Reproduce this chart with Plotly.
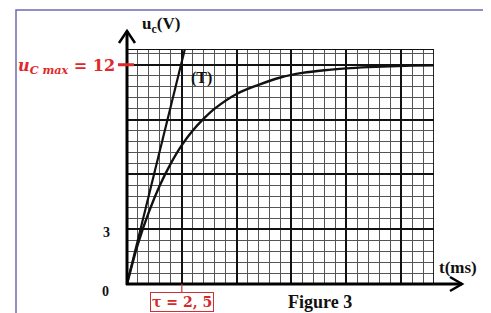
import plotly.graph_objects as go

# ---- data ----
t_curve = [0, 0.5, 1, 1.5, 2, 2.5, 3, 3.5, 4, 5, 6, 7, 8, 9, 10, 11, 12, 13, 14]
u_curve = [0, 2.2, 3.95, 5.4, 6.6, 7.6, 8.4, 9.05, 9.6, 10.4, 10.9, 11.3, 11.55, 11.7, 11.8, 11.87, 11.92, 11.95, 11.97]
t_tangent = [0, 2.64]
u_tangent = [0, 12.86]
u_max = 12
tau = 2.5
y_tick_labels = ["0", "3"]

# ---- layout geometry (page pixels; the page body adds an 8px offset) ----
OFF = 8
W, H = 491 - OFF, 313 - OFF
PL, PR, PT, PB = 127, 434, 49, 284          # plot area in page pixels
L, T = PL - OFF, PT - OFF
R, B = W - (PR - OFF), H - (PB - OFF)
PW, PH = PR - PL, PB - PT


def px(x):
    return (x - PL) / PW


def py(y):
    return (PB - y) / PH


fig = go.Figure()
fig.add_trace(go.Scatter(x=t_curve, y=u_curve, mode="lines", line=dict(color="#111", width=2.4, shape="spline"),
                         hoverinfo="skip", showlegend=False))
fig.add_trace(go.Scatter(x=t_tangent, y=u_tangent, mode="lines", line=dict(color="#111", width=2.2),
                         hoverinfo="skip", showlegend=False))

serif = "Liberation Serif"
shapes = []
# outer frame
shapes.append(dict(type="rect", xref="paper", yref="paper", x0=px(16), x1=px(484), y0=py(330), y1=py(10),
                   line=dict(color="#6b6bb0", width=1.5), layer="below"))
# grid border
shapes.append(dict(type="rect", xref="x", yref="y", x0=0, x1=14, y0=0, y1=12.86,
                   line=dict(color="#111", width=1.8)))
# y axis with arrow
shapes.append(dict(type="line", xref="paper", yref="paper", x0=px(127), x1=px(127), y0=py(285), y1=py(31),
                   line=dict(color="#000", width=3)))
shapes.append(dict(type="path", xref="paper", yref="paper",
                   path=f"M {px(119)} {py(43)} L {px(127)} {py(31)} L {px(135)} {py(43)}",
                   line=dict(color="#000", width=2.5)))
# x axis with arrow
shapes.append(dict(type="line", xref="paper", yref="paper", x0=px(126), x1=px(462), y0=py(284), y1=py(284),
                   line=dict(color="#000", width=3)))
shapes.append(dict(type="path", xref="paper", yref="paper",
                   path=f"M {px(450)} {py(277)} L {px(462)} {py(284)} L {px(450)} {py(291)}",
                   line=dict(color="#000", width=2.5)))
# red markers
shapes.append(dict(type="line", xref="paper", yref="y", x0=px(118), x1=px(134), y0=u_max, y1=u_max,
                   line=dict(color="#e0282a", width=3)))
shapes.append(dict(type="line", xref="x", yref="paper", x0=tau, x1=tau, y0=py(284), y1=py(294),
                   line=dict(color="#d03030", width=1.2)))

annotations = [
    dict(x=px(161), y=py(25), text="<b>u<sub>c</sub>(V)</b>", font=dict(family=serif, size=17, color="#111")),
    dict(x=px(458), y=py(267), text="<b>t(ms)</b>", font=dict(family=serif, size=17, color="#111")),
    dict(x=px(320), y=py(302), text="<b>Figure 3</b>", font=dict(family=serif, size=18, color="#111")),
    dict(x=px(105), y=py(291), text=f"<b>{y_tick_labels[0]}</b>", font=dict(family=serif, size=14, color="#111")),
    dict(x=px(106), y=py(232), text=f"<b>{y_tick_labels[1]}</b>", font=dict(family=serif, size=14, color="#111")),
    dict(x=3.4, y=11.3, xref="x", yref="y", text="<b>(T)</b>", font=dict(family=serif, size=16, color="#111")),
    dict(x=px(66), y=py(66),
         text="<b><i>u</i><sub><i>C max</i></sub> = " + str(u_max) + "</b>",
         font=dict(family="DejaVu Serif", size=16, color="#e0282a")),
    dict(x=tau, xref="x", y=py(302),
         text="<b>τ = " + str(tau).replace(".", ", ") + "</b>",
         font=dict(family="DejaVu Serif", size=14, color="#d42a2a"),
         bordercolor="#d03030", borderwidth=1, borderpad=1, bgcolor="white"),
]
for a in annotations:
    a.setdefault("xref", "paper")
    a.setdefault("yref", "paper")
    a["showarrow"] = False
    a["xanchor"] = "center"
    a["yanchor"] = "middle"

fig.update_layout(
    width=W, height=H,
    margin=dict(l=L, r=R, t=T, b=B, pad=0),
    paper_bgcolor="white", plot_bgcolor="white",
    shapes=shapes, annotations=annotations,
    xaxis=dict(range=[0, 14], tick0=0, dtick=2.5, showgrid=True, gridcolor="#111", gridwidth=2.2,
               minor=dict(tick0=0, dtick=0.5, showgrid=True, gridcolor="#555", gridwidth=1.2),
               showticklabels=False, zeroline=False, showline=False, ticks=""),
    yaxis=dict(range=[0, 12.86], tick0=0, dtick=3, showgrid=True, gridcolor="#111", gridwidth=2.2,
               minor=dict(tick0=0, dtick=0.6, showgrid=True, gridcolor="#555", gridwidth=1.2),
               showticklabels=False, zeroline=False, showline=False, ticks=""),
)

fig.write_html("out.html")
